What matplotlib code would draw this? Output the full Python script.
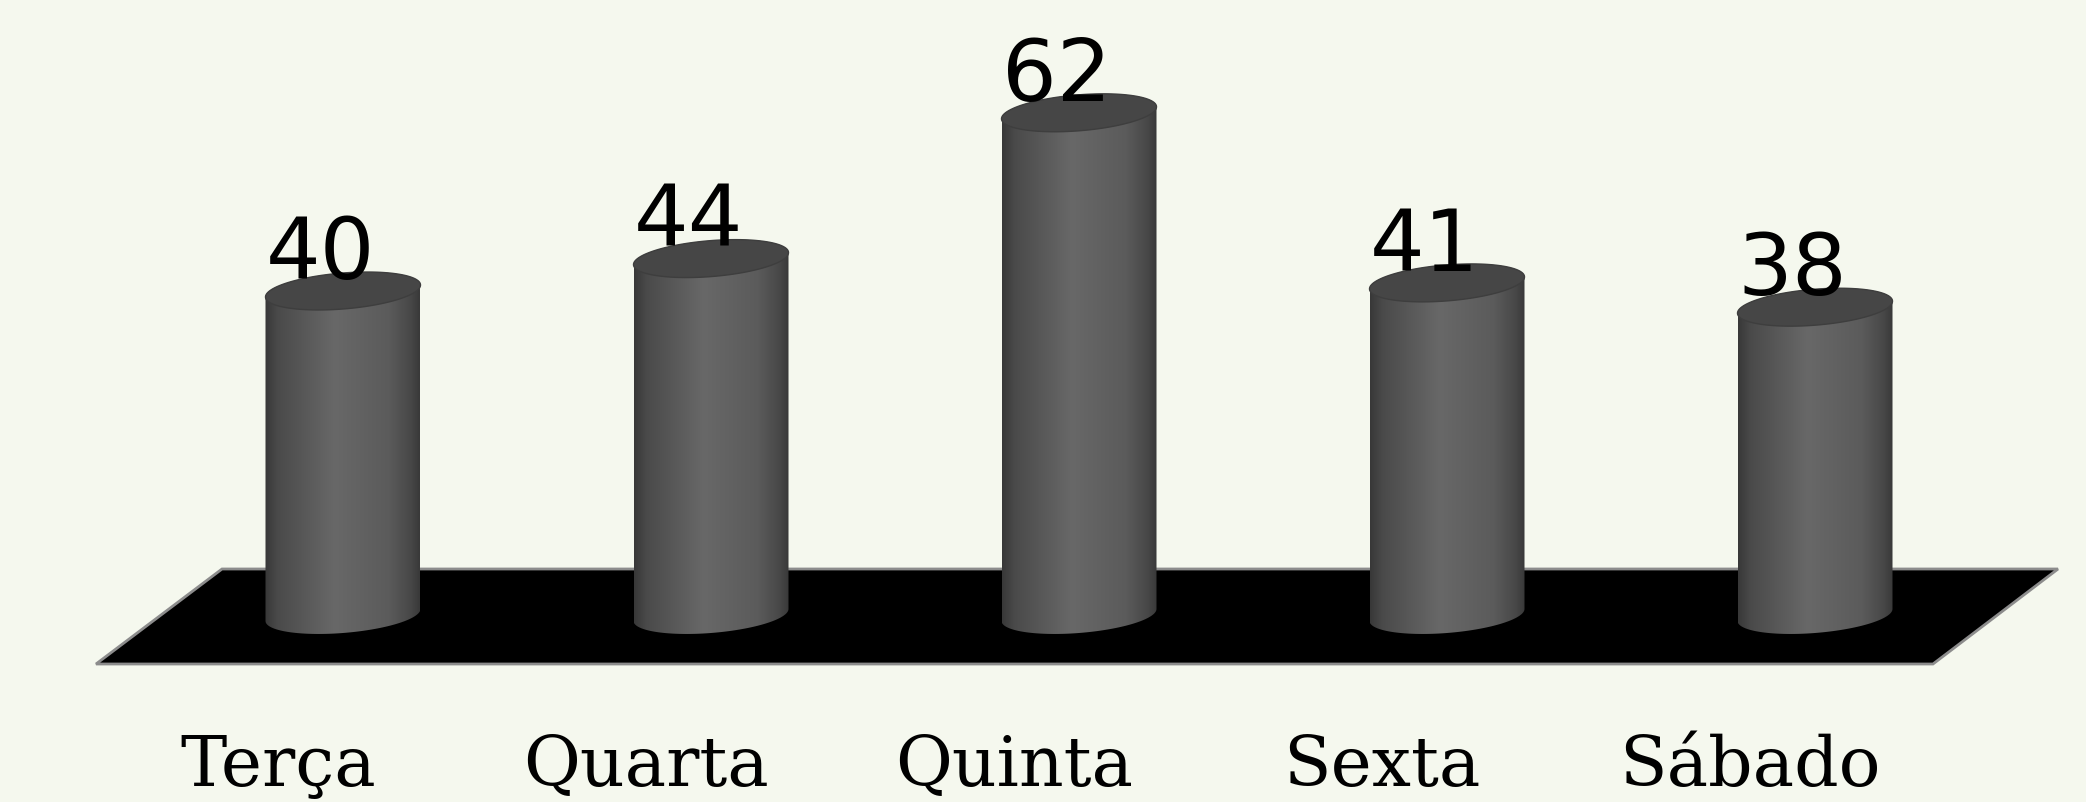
import numpy as np
import matplotlib
matplotlib.use("Agg")
import matplotlib.pyplot as plt
from matplotlib.patches import Polygon
from matplotlib.colors import LinearSegmentedColormap

# data
days = ['Terça', 'Quarta', 'Quinta', 'Sexta', 'Sábado']
values = [40, 44, 62, 41, 38]

W, H, DPI = 2086, 802, 100
bg = '#f5f8ee'

# layout in pixels -> data units
px_x = 368.0      # pixels per category step
px_y = 8.1        # pixels per value unit
x0_px, y0_px = 343, 615   # pixel of first category / zero value

a = 77.5 / px_x   # cylinder half width
b = 18 / px_y     # ellipse half height
k = 6 / px_y      # tilt of ellipse (right side higher)

fig = plt.figure(figsize=(W / DPI, H / DPI), dpi=DPI)
fig.patch.set_facecolor(bg)
ax = fig.add_axes([0, 0, 1, 1])
ax.set_facecolor(bg)
ax.axis('off')

xlim = (-x0_px / px_x, (W - x0_px) / px_x)
ylim = ((y0_px - H) / px_y, y0_px / px_y)


def to_x(px):
    return (px - x0_px) / px_x


def to_y(py):
    return (y0_px - py) / px_y


# black floor
floor = Polygon([(to_x(96), to_y(664)), (to_x(1933), to_y(664)),
                 (to_x(2058), to_y(569)), (to_x(222), to_y(569))],
                closed=True, facecolor='black', edgecolor='#8c8c8c',
                linewidth=2, zorder=1)
ax.add_patch(floor)

cmap = LinearSegmentedColormap.from_list('cyl', [
    (0.0, '#383838'), (0.08, '#4a4a4a'), (0.45, '#686868'),
    (0.8, '#5b5b5b'), (0.94, '#484848'), (1.0, '#393939')])
grad = np.linspace(0, 1, 256).reshape(1, -1)


def ell(cx, cy, t):
    return cx + a * np.cos(t), cy + b * np.sin(t) + k * np.cos(t)


for i, (d, v) in enumerate(zip(days, values)):
    t_lo = np.linspace(np.pi, 2 * np.pi, 80)
    t_hi = np.linspace(0, np.pi, 80)
    bx, by = ell(i, 0, t_lo)
    tx, ty = ell(i, v, t_hi)
    body = Polygon(np.column_stack([np.r_[bx, tx], np.r_[by, ty]]),
                   closed=True, facecolor='none', edgecolor='none', zorder=2)
    ax.add_patch(body)
    im = ax.imshow(grad, cmap=cmap, aspect='auto', interpolation='bilinear',
                   extent=[i - a, i + a, -b - k, v + b + k], zorder=2)
    im.set_clip_path(body)

    t = np.linspace(0, 2 * np.pi, 160)
    cx, cy = ell(i, v, t)
    ax.add_patch(Polygon(np.column_stack([cx, cy]), closed=True,
                         facecolor='#464646', edgecolor='#3e3e3e',
                         linewidth=1, zorder=3))

    ax.text(i - a, v + 1.5, str(v), ha='left', va='baseline',
            fontsize=62, family='DejaVu Sans', color='black', zorder=5)
    ax.text(i - 65 / px_x, to_y(786), d, ha='center', va='baseline',
            fontsize=50, family='DejaVu Serif', color='black', zorder=5)

ax.set_xlim(*xlim)
ax.set_ylim(*ylim)

fig.savefig('out.png', dpi=DPI, facecolor=bg)
